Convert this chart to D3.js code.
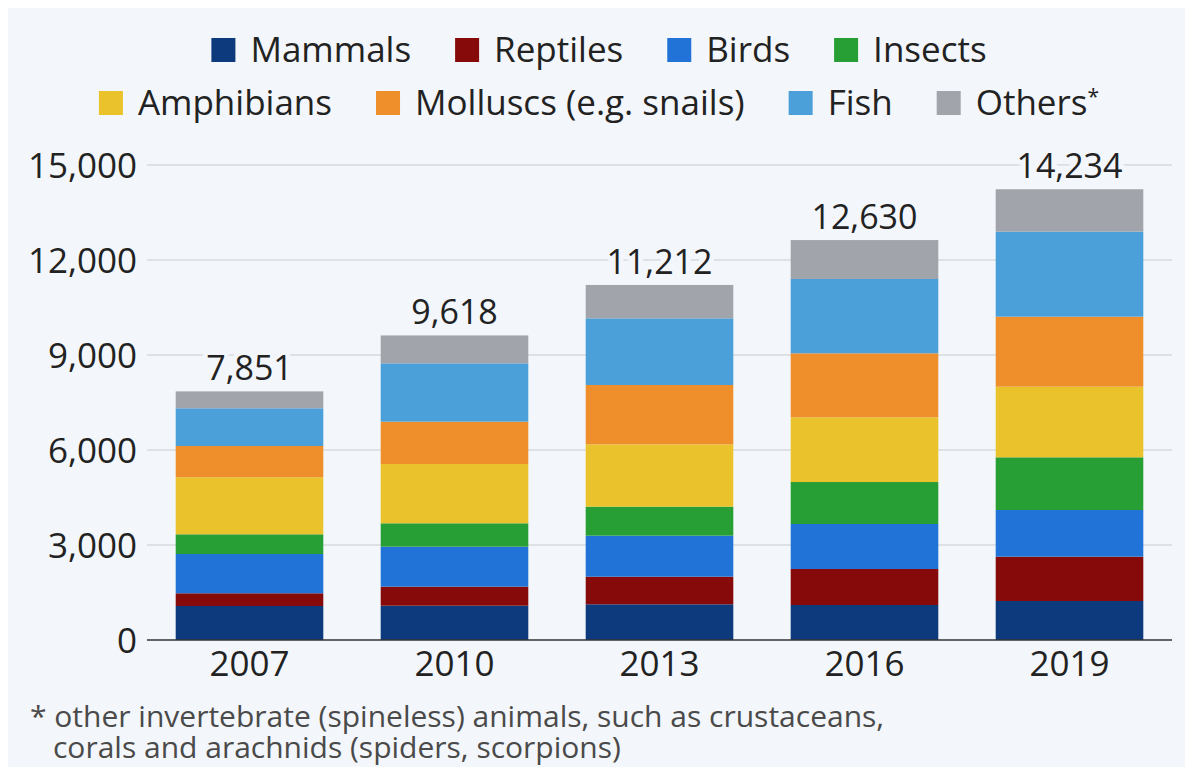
<!DOCTYPE html>
<html>
<head>
<meta charset="utf-8">
<script src="https://cdn.jsdelivr.net/npm/d3@7"></script>
<style>
  html, body { margin: 0; padding: 0; background: #ffffff; }
  svg { display: block; }
  text { font-family: "Open Sans", "Noto Sans", sans-serif; }
</style>
</head>
<body>
<svg id="chart" width="1185" height="767"></svg>
<script>
// Threatened species on the IUCN Red List, by animal group
const years = ["2007", "2010", "2013", "2016", "2019"];
const groups = ["Mammals", "Reptiles", "Birds", "Insects", "Amphibians", "Molluscs (e.g. snails)", "Fish", "Others*"];
const groupColors = ["#0c3a7c", "#870a0b", "#2273d8", "#289f34", "#eac32c", "#ef8f2b", "#4ba0d9", "#a1a5ab"];

const mammals    = [1074, 1084, 1127, 1105, 1232];
const reptiles   = [401, 600, 873, 1137, 1399];
const birds      = [1241, 1263, 1295, 1421, 1474];
const insects    = [622, 738, 916, 1326, 1664];
const amphibians = [1800, 1873, 1968, 2044, 2231];
const molluscs   = [988, 1336, 1874, 2020, 2210];
const fish       = [1191, 1843, 2105, 2347, 2685];
const others     = [534, 881, 1054, 1230, 1339];

const yTicks = [0, 3000, 6000, 9000, 12000, 15000];
const footnote = [
  "* other invertebrate (spineless) animals, such as crustaceans,",
  "corals and arachnids (spiders, scorpions)"
];

const series = [mammals, reptiles, birds, insects, amphibians, molluscs, fish, others];

const rows = years.map((y, i) => {
  const r = { year: y };
  groups.forEach((g, k) => { r[g] = series[k][i]; });
  r.total = d3.sum(series, s => s[i]);
  return r;
});

const svg = d3.select("#chart");
const W = 1185, H = 767;
const fs = 35;

// panel background
svg.append("rect").attr("x", 8).attr("y", 8).attr("width", W - 8).attr("height", H - 8)
  .attr("fill", "#f3f6fa");

const x = d3.scaleBand().domain(years).range([147, 1172]).paddingInner(0.28).paddingOuter(0.14);
const y = d3.scaleLinear().domain([0, 15000]).range([640, 165]);
const color = d3.scaleOrdinal().domain(groups).range(groupColors);

// gridlines
const grid = svg.append("g").attr("class", "grid");
grid.selectAll("line").data(yTicks.filter(t => t > 0)).join("line")
  .attr("x1", 147).attr("x2", 1172)
  .attr("y1", d => y(d)).attr("y2", d => y(d))
  .attr("stroke", "#c9cbcf").attr("stroke-width", 1);

// y axis labels
const yAxis = d3.axisLeft(y).tickValues(yTicks).tickSize(0).tickPadding(10)
  .tickFormat(d3.format(","));
const yg = svg.append("g").attr("transform", "translate(137,0)").call(yAxis);
yg.select(".domain").remove();
yg.selectAll("text").attr("font-size", fs).attr("fill", "#222").attr("x", 0)
  .attr("dy", "0.357em").attr("font-family", "Open Sans");

// stacked bars
const stacked = d3.stack().keys(groups)(rows);
svg.append("g").selectAll("g").data(stacked).join("g")
  .attr("fill", d => color(d.key))
  .selectAll("rect").data(d => d).join("rect")
  .attr("x", d => x(d.data.year))
  .attr("width", x.bandwidth())
  .attr("y", d => y(d[1]))
  .attr("height", d => y(d[0]) - y(d[1]));

// baseline
svg.append("line").attr("x1", 147).attr("x2", 1172)
  .attr("y1", y(0)).attr("y2", y(0))
  .attr("stroke", "#333").attr("stroke-width", 1.5);

// x axis labels
const xAxis = d3.axisBottom(x).tickSize(0).tickPadding(0);
const xg = svg.append("g").attr("transform", `translate(0,${y(0)})`).call(xAxis);
xg.select(".domain").remove();
xg.selectAll("text").attr("font-size", fs).attr("fill", "#222")
  .attr("y", 36).attr("dy", 0).attr("font-family", "Open Sans");

// totals above bars
svg.append("g").selectAll("text").data(rows).join("text")
  .attr("x", d => x(d.year) + x.bandwidth() / 2)
  .attr("y", d => y(d.total) - 11)
  .attr("text-anchor", "middle")
  .attr("font-size", fs - 1)
  .attr("fill", "#222")
  .attr("stroke", "#f3f6fa").attr("stroke-width", 10)
  .attr("paint-order", "stroke")
  .attr("stroke-linejoin", "round")
  .text(d => d3.format(",")(d.total));

// legend: two centred rows
const legendRows = [groups.slice(0, 4), groups.slice(4)];
const rowCenters = [50, 103];
const sw = 24, swGap = 15, itemGap = 44;
legendRows.forEach((items, ri) => {
  const g = svg.append("g");
  let cx = 0;
  items.forEach(name => {
    const item = g.append("g").attr("transform", `translate(${cx},0)`);
    item.append("rect").attr("x", 0).attr("y", rowCenters[ri] - sw / 2)
      .attr("width", sw).attr("height", sw).attr("fill", color(name));
    const t = item.append("text").attr("x", sw + swGap).attr("y", rowCenters[ri])
      .attr("dy", "0.357em").attr("font-size", fs).attr("fill", "#222");
    if (name.endsWith("*")) {
      t.text(name.slice(0, -1));
      t.append("tspan").attr("font-size", fs * 0.6).attr("dy", "-0.55em").text("*");
    } else {
      t.text(name);
    }
    const w = t.node().getComputedTextLength();
    cx += sw + swGap + w + itemGap;
  });
  const total = cx - itemGap;
  g.attr("transform", `translate(${599 - total / 2},0)`);
});

// footnote
svg.append("g").selectAll("text").data(footnote).join("text")
  .attr("x", (d, i) => i === 0 ? 30 : 53)
  .attr("y", (d, i) => 727 + i * 31)
  .attr("font-size", 30)
  .attr("fill", "#4a4a4a")
  .text(d => d);
</script>
</body>
</html>
